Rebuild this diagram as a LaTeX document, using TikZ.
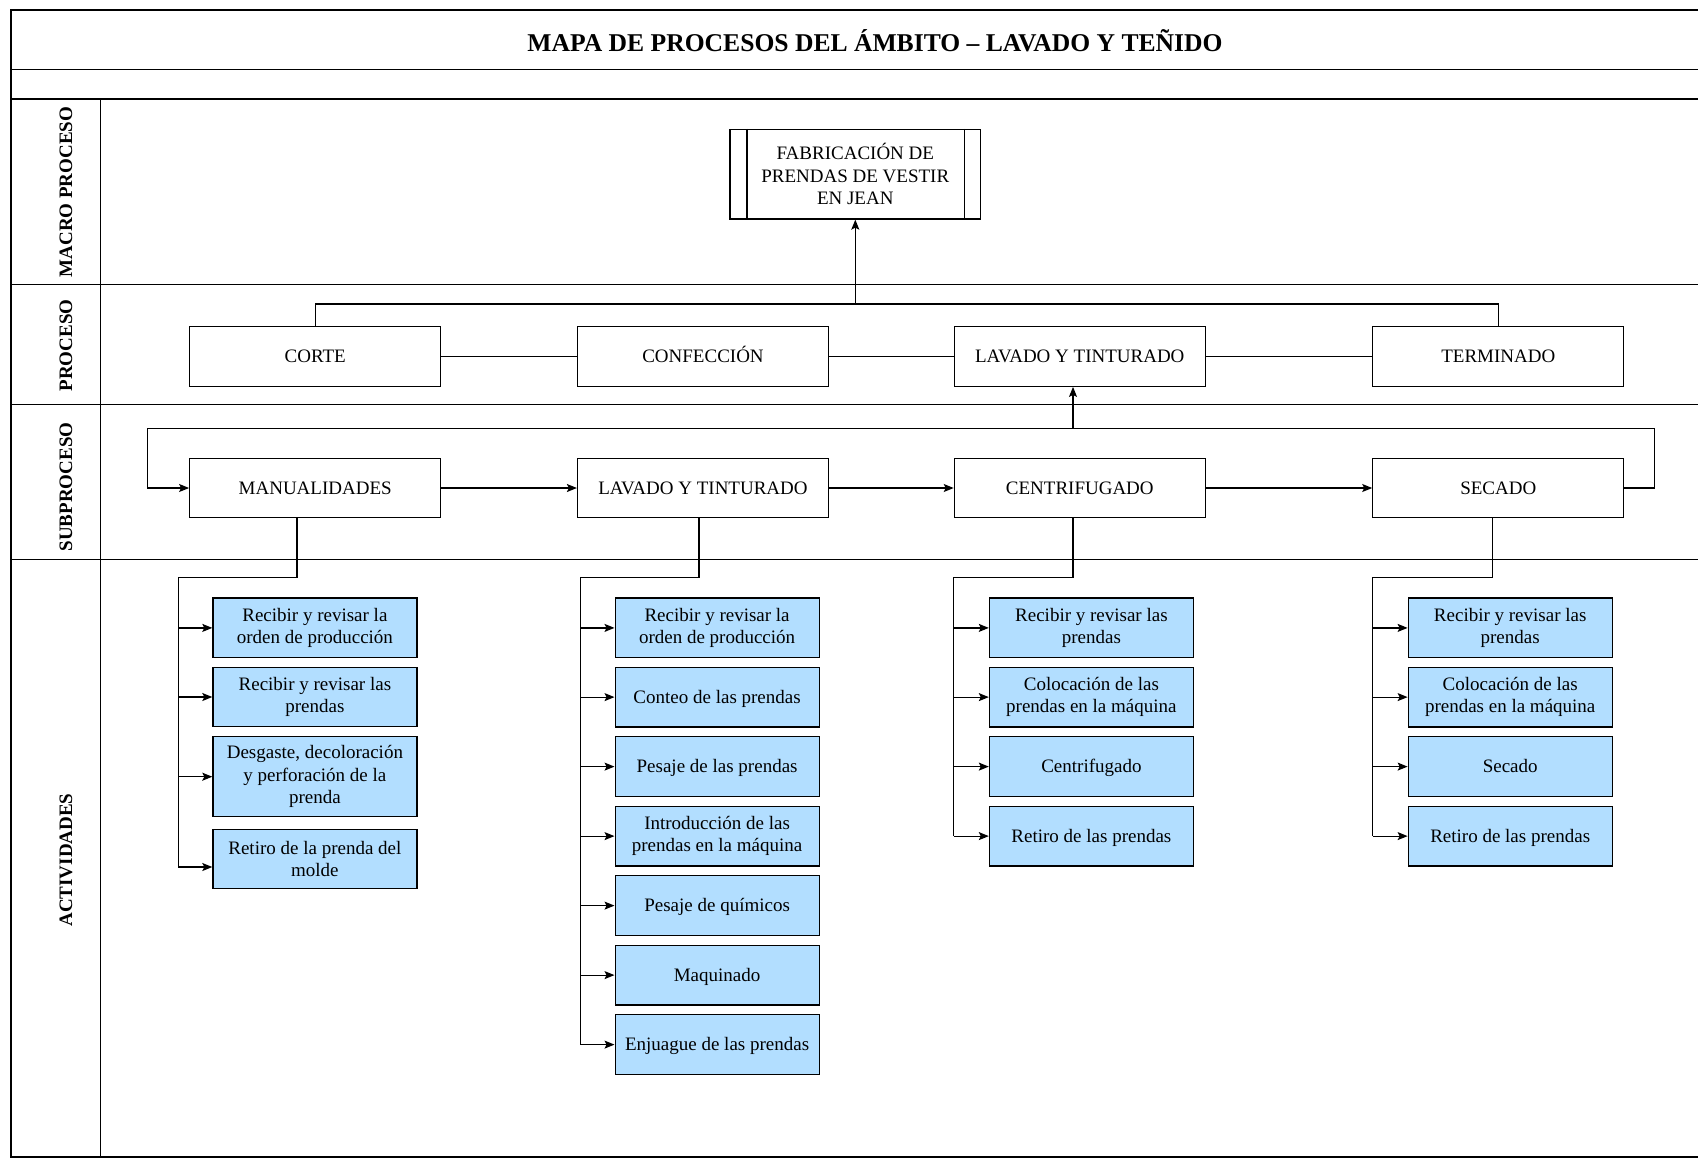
\documentclass[tikz,border=0pt]{standalone}
\usepackage{fontspec}
\setmainfont{Liberation Serif}
\usetikzlibrary{arrows.meta,calc}
\definecolor{actfill}{RGB}{178,222,255}
\begin{document}
\begin{tikzpicture}[x=1pt,y=-1pt,
  frame/.style={line width=1.6pt},
  link/.style={line width=1.2pt},
  arr/.style={line width=1.2pt,-{Stealth[length=10pt,width=8pt,inset=2pt]}},
  txt/.style={font=\fontsize{19}{22.3}\selectfont},
  procbox/.style={txt,draw,line width=1.2pt,minimum width=251pt,minimum height=60pt,inner sep=0pt,align=center},
  oneline/.style={text height=12pt,text depth=0pt},
  actbox/.style={txt,draw,line width=1.2pt,fill=actfill,minimum width=204pt,minimum height=59.7pt,inner sep=0pt,align=center},
  lane/.style={rotate=90,font=\bfseries\fontsize{19}{22}\selectfont}
]
\useasboundingbox (0,0) rectangle (1698,1160);

% table frame
\draw[frame] (1698,10) -- (11,10) -- (11,1157) -- (1698,1157);
\foreach \yy in {69.3,99,284.3,404.3,559.3}
  \draw[frame] (11,\yy) -- (1698,\yy);
\draw[frame] (100.3,99) -- (100.3,1157);

% title and lane labels
\node[anchor=base,font=\bfseries\fontsize{25.6}{30}\selectfont] (title) at (875,51.5)
  {MAPA DE PROCESOS DEL ÁMBITO – LAVADO Y TEÑIDO};
\node[lane] (lmacro) at (66,192) {MACRO PROCESO};
\node[lane] (lproc) at (66,345.5) {PROCESO};
\node[lane] (lsub) at (66,487) {SUBPROCESO};
\node[lane] (lact) at (66,860) {ACTIVIDADES};

% macro process (predefined-process box with double side bars)
\node[procbox,minimum width=250.6pt,minimum height=89.7pt] (macro) at (855.3,174.2)
  {FABRICACIÓN DE\\PRENDAS DE VESTIR\\EN JEAN};
\draw[link] ($(macro.north west)+(17.5,0)$) -- ($(macro.south west)+(17.5,0)$);
\draw[link] ($(macro.north east)+(-17,0)$) -- ($(macro.south east)+(-17,0)$);

% processes
\node[procbox,oneline] (corte) at (315.2,356.3) {CORTE};
\node[procbox,oneline] (conf) at (703,356.3) {CONFECCIÓN};
\node[procbox,oneline] (lavp) at (1079.8,356.3) {LAVADO Y TINTURADO};
\node[procbox,oneline] (term) at (1498.3,356.3) {TERMINADO};
\draw[link] (corte.east) -- (conf.west);
\draw[link] (conf.east) -- (lavp.west);
\draw[link] (lavp.east) -- (term.west);
\coordinate (bus) at (855.3,304);
\draw[link] (corte.north) |- (bus) -| (term.north);
\draw[arr] (bus) -- (macro.south);

% subprocesses
\node[procbox,oneline,minimum height=59.4pt] (man) at (315.2,488) {MANUALIDADES};
\node[procbox,oneline,minimum height=59.4pt] (lavs) at (703,488) {LAVADO Y TINTURADO};
\node[procbox,oneline,minimum height=59.4pt] (cen) at (1079.8,488) {CENTRIFUGADO};
\node[procbox,oneline,minimum height=59.4pt] (sec) at (1498.3,488) {SECADO};
\draw[arr] (man.east) -- (lavs.west);
\draw[arr] (lavs.east) -- (cen.west);
\draw[arr] (cen.east) -- (sec.west);
\draw[arr] (sec.east) -- ++(30.3,0) |- (147.4,428.7) |- (man.west);
\coordinate (up) at (1073,428.7);
\draw[arr] (up) -- (up |- lavp.south);

% activities: manualidades
\node[actbox] (a11) at (314.9,627.9) {Recibir y revisar la\\orden de producción};
\node[actbox] (a12) at (314.9,697) {Recibir y revisar las\\prendas};
\node[actbox,minimum height=80pt] (a13) at (314.9,776.7) {Desgaste, decoloración\\y perforación de la\\prenda};
\node[actbox] (a14) at (314.9,859) {Retiro de la prenda del\\molde};
\coordinate (t1) at (178.3,577.3);
\coordinate (a14in) at ($(a14.west)+(0,8)$);
\draw[link] ($(man.south)+(-18.2,0)$) |- (t1) -- (t1 |- a14in);
\foreach \n in {a11,a12,a13} \draw[arr] (t1 |- \n.west) -- (\n.west);
\draw[arr] (t1 |- a14in) -- (a14in);

% activities: lavado y tinturado
\node[actbox] (a21) at (717.1,627.9) {Recibir y revisar la\\orden de producción};
\node[actbox,oneline] (a22) at (717.1,697.1) {Conteo de las prendas};
\node[actbox,oneline] (a23) at (717.1,766.6) {Pesaje de las prendas};
\node[actbox] (a24) at (717.1,836.1) {Introducción de las\\prendas en la máquina};
\node[actbox,oneline] (a25) at (717.1,905.6) {Pesaje de químicos};
\node[actbox,oneline] (a26) at (717.1,975.1) {Maquinado};
\node[actbox,oneline] (a27) at (717.1,1044.6) {Enjuague de las prendas};
\coordinate (t2) at (580.5,577.3);
\draw[link] ($(lavs.south)+(-4,0)$) |- (t2) -- (t2 |- a27.west);
\foreach \n in {a21,a22,a23,a24,a25,a26,a27} \draw[arr] (t2 |- \n.west) -- (\n.west);

% activities: centrifugado
\node[actbox] (a31) at (1091.4,627.9) {Recibir y revisar las\\prendas};
\node[actbox] (a32) at (1091.4,697.1) {Colocación de las\\prendas en la máquina};
\node[actbox,oneline] (a33) at (1091.4,766.6) {Centrifugado};
\node[actbox,oneline] (a34) at (1091.4,836.1) {Retiro de las prendas};
\coordinate (t3) at (953.5,577.3);
\draw[link] ($(cen.south)+(-6.8,0)$) |- (t3) -- (t3 |- a34.west);
\foreach \n in {a31,a32,a33,a34} \draw[arr] (t3 |- \n.west) -- (\n.west);

% activities: secado
\node[actbox] (a41) at (1510.2,627.9) {Recibir y revisar las\\prendas};
\node[actbox] (a42) at (1510.2,697.1) {Colocación de las\\prendas en la máquina};
\node[actbox,oneline] (a43) at (1510.2,766.6) {Secado};
\node[actbox,oneline] (a44) at (1510.2,836.1) {Retiro de las prendas};
\coordinate (t4) at (1372.5,577.3);
\draw[link] ($(sec.south)+(-5.5,0)$) |- (t4) -- (t4 |- a44.west);
\foreach \n in {a41,a42,a43,a44} \draw[arr] (t4 |- \n.west) -- (\n.west);
\end{tikzpicture}
\end{document}
